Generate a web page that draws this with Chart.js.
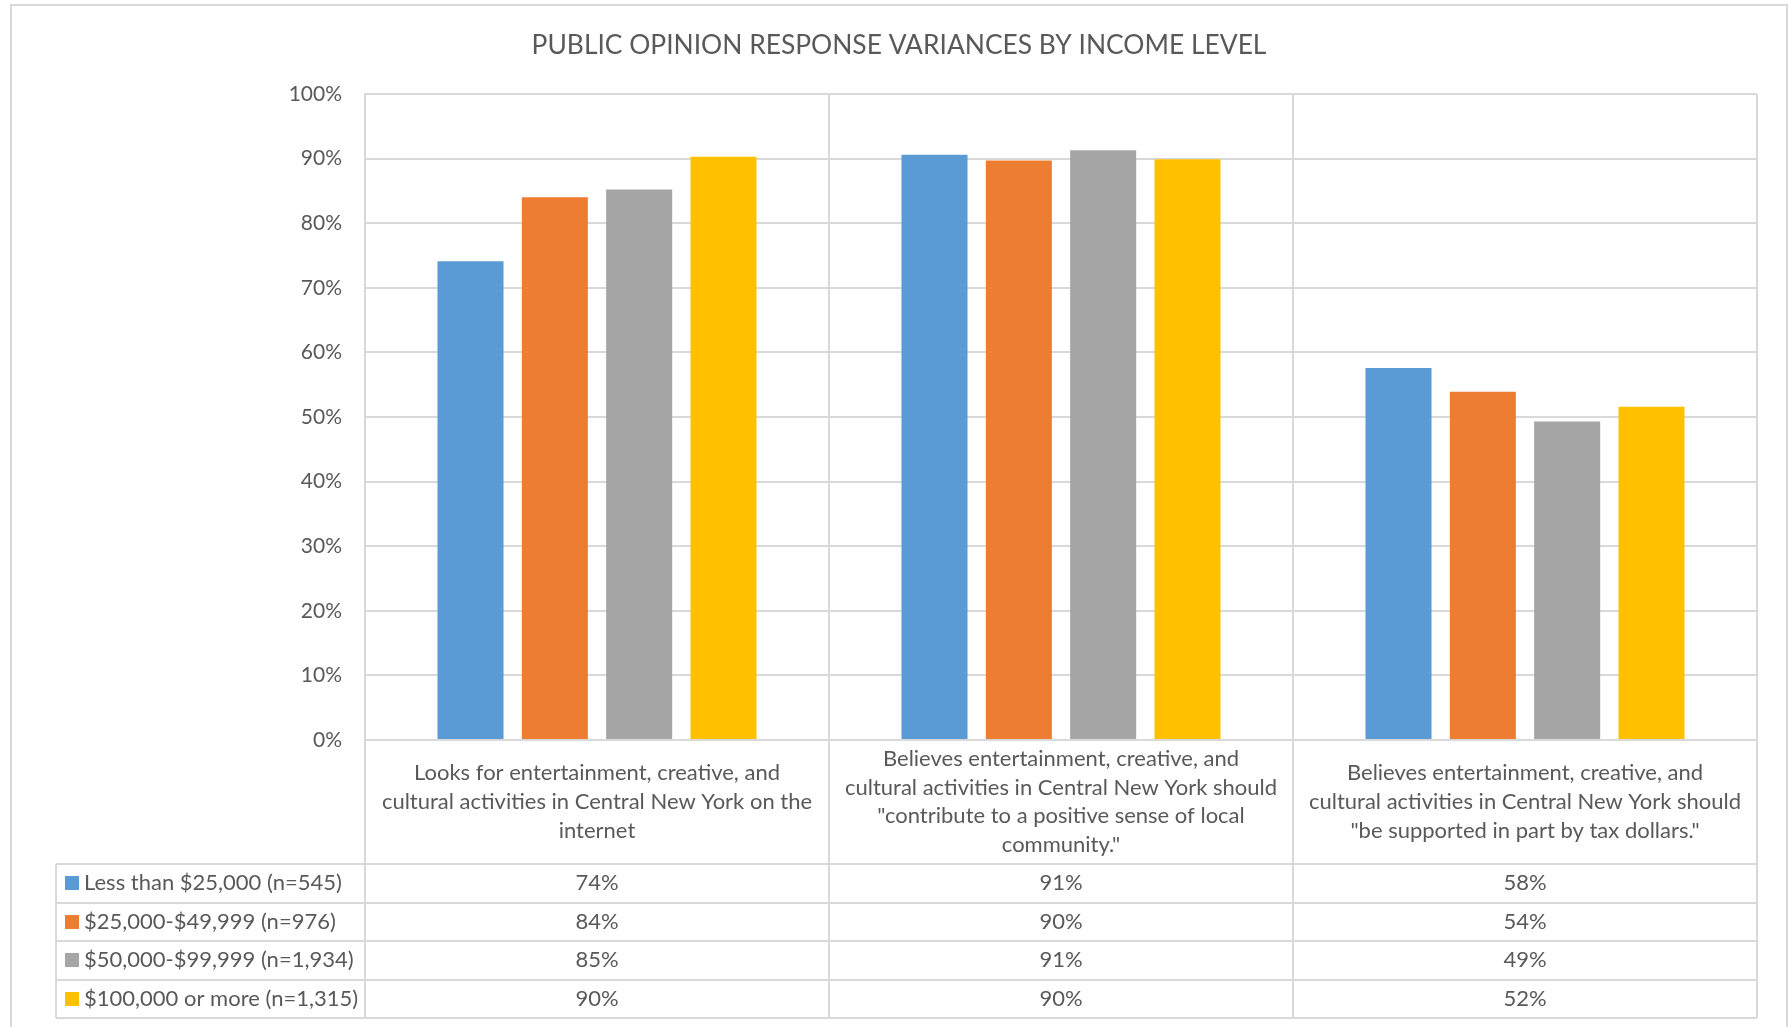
<!DOCTYPE html>
<html>
<head>
<meta charset="utf-8">
<script src="https://cdn.jsdelivr.net/npm/chart.js@4.4.0/dist/chart.umd.min.js"></script>
<style>
  html, body { margin: 0; padding: 0; background: #fff; }
</style>
</head>
<body>
<canvas id="myChart" width="1790" height="1027"></canvas>
<script>
var titulo = "PUBLIC OPINION RESPONSE VARIANCES BY INCOME LEVEL";

// cada categoria va en varias lineas, igual que en la tabla original
var categorias = [
  ["Looks for entertainment, creative, and", "cultural activities in Central New York on the", "internet"],
  ["Believes entertainment, creative, and", "cultural activities in Central New York should", "\"contribute to a positive sense of local", "community.\""],
  ["Believes entertainment, creative, and", "cultural activities in Central New York should", "\"be supported in part by tax dollars.\""]
];

var grupos = [
  "Less than $25,000 (n=545)",
  "$25,000-$49,999 (n=976)",
  "$50,000-$99,999 (n=1,934)",
  "$100,000 or more (n=1,315)"
];

// porcentajes por grupo de ingreso
var menos25 = [74.1, 90.6, 57.6];
var de25a50 = [84.0, 89.7, 53.9];
var de50a100 = [85.2, 91.3, 49.3];
var mas100 = [90.3, 89.9, 51.6];

var colores = ["#5B9BD5", "#ED7D31", "#A5A5A5", "#FFC000"];
var yTicks = [0, 10, 20, 30, 40, 50, 60, 70, 80, 90, 100];

var series = [menos25, de25a50, de50a100, mas100];
var gris = "#595959";
var linea = "#d9d9d9";
var fuente = "Lato, 'Open Sans', sans-serif";

var tablaPlugin = {
  id: "tabla",
  beforeDraw: function (chart) {
    var ctx = chart.ctx;
    ctx.save();
    ctx.fillStyle = "#fff";
    ctx.fillRect(0, 0, chart.width, chart.height);
    ctx.strokeStyle = linea;
    ctx.lineWidth = 2;
    ctx.strokeRect(11, 5, 1776, 1100);
    ctx.fillStyle = gris;
    ctx.font = "26.4px " + fuente;
    ctx.textAlign = "center";
    ctx.textBaseline = "middle";
    ctx.fillText(titulo, 899, 45);
    ctx.restore();
  },
  afterDraw: function (chart) {
    var ctx = chart.ctx;
    var area = chart.chartArea;
    var n = categorias.length;
    var ancho = (area.right - area.left) / n;
    var cabecera = 124;
    var fila = 38.5;
    var filasTop = area.bottom + cabecera;
    var fondo = filasTop + fila * grupos.length;
    var izq = 56;

    ctx.save();
    ctx.strokeStyle = linea;
    ctx.lineWidth = 2;
    ctx.beginPath();
    // lineas verticales que bajan por la tabla
    for (var i = 0; i <= n; i++) {
      var xl = Math.round(area.left + ancho * i);
      ctx.moveTo(xl, area.top);
      ctx.lineTo(xl, fondo);
    }
    ctx.moveTo(izq, filasTop);
    ctx.lineTo(izq, fondo);
    for (var r = 0; r <= grupos.length; r++) {
      var yl = Math.round(filasTop + fila * r);
      ctx.moveTo(izq, yl);
      ctx.lineTo(area.right, yl);
    }
    ctx.stroke();

    ctx.fillStyle = gris;
    ctx.textAlign = "center";
    ctx.textBaseline = "middle";
    ctx.font = "22px " + fuente;
    // encabezados de categoria
    var alto = 28.8;
    for (var c = 0; c < n; c++) {
      var cx = area.left + ancho * (c + 0.5);
      var lineas = categorias[c];
      var y0 = area.bottom + cabecera / 2 - (lineas.length - 1) * alto / 2;
      for (var k = 0; k < lineas.length; k++) {
        ctx.fillText(lineas[k], cx, y0 + k * alto);
      }
    }
    // filas con la leyenda y los valores
    for (var g = 0; g < grupos.length; g++) {
      var cy = filasTop + fila * (g + 0.5);
      ctx.fillStyle = colores[g];
      ctx.fillRect(65, Math.round(cy - 7), 14, 14);
      ctx.fillStyle = gris;
      ctx.textAlign = "left";
      ctx.fillText(grupos[g], 84, cy);
      ctx.textAlign = "center";
      for (var c2 = 0; c2 < n; c2++) {
        ctx.fillText(series[g][c2].toFixed(0) + "%", area.left + ancho * (c2 + 0.5), cy);
      }
    }
    ctx.restore();
  }
};

var graficar = document.getElementById("myChart").getContext("2d");
var myChart = new Chart(graficar, {
  type: "bar",
  data: {
    labels: categorias,
    datasets: grupos.map(function (g, i) {
      return {
        label: g,
        data: series[i],
        backgroundColor: colores[i],
        categoryPercentage: 0.727,
        barPercentage: 0.783
      };
    })
  },
  plugins: [tablaPlugin],
  options: {
    responsive: false,
    devicePixelRatio: 1,
    animation: false,
    layout: { padding: { left: 0, right: 33, top: 94, bottom: 287 } },
    plugins: {
      legend: { display: false },
      title: { display: false },
      tooltip: { enabled: false }
    },
    scales: {
      x: {
        grid: { color: linea, lineWidth: 2, drawTicks: false, offset: true },
        border: { display: false },
        ticks: { display: false },
        afterFit: function (s) { s.height = 0; }
      },
      y: {
        min: 0,
        max: 100,
        afterBuildTicks: function (s) {
          s.ticks = yTicks.map(function (v) { return { value: v }; });
        },
        grid: { color: linea, lineWidth: 2, drawTicks: false },
        border: { color: linea, width: 2 },
        ticks: {
          padding: 23,
          color: gris,
          font: { family: fuente, size: 21 },
          callback: function (v) { return v + "%"; }
        },
        afterFit: function (s) { s.width = 365; }
      }
    }
  }
});
</script>
</body>
</html>
